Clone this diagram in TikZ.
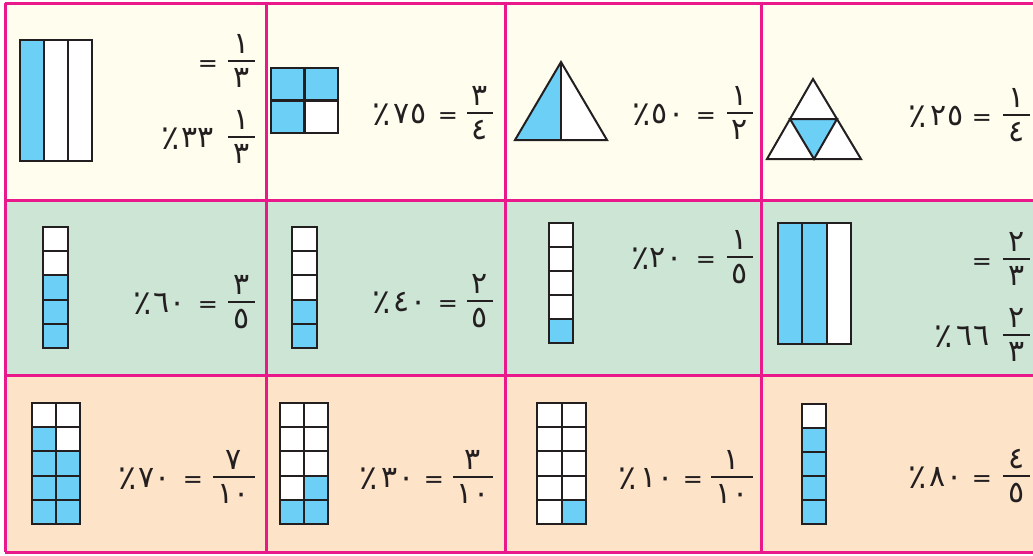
\documentclass[tikz,border=0pt]{standalone}
\usepackage{fontspec}
\newfontfamily\arabicfont[Script=Arabic]{DejaVu Sans}
\definecolor{rowA}{HTML}{FEFDEE}
\definecolor{rowB}{HTML}{CCE5D5}
\definecolor{rowC}{HTML}{FDE3C8}
\definecolor{magl}{HTML}{E9198B}
\definecolor{bluef}{HTML}{6CCFF6}
\definecolor{inkc}{HTML}{231F20}
\newcommand\gridfig[7]{%
  \fill[white] (#1,#2) rectangle ++({#5*#3},{#6*#4});
  \foreach \gc/\gr in {#7} \fill[bluef] ({#1+(\gc-1)*#3},{#2+(\gr-1)*#4}) rectangle ++(#3,#4);
  \foreach \gr in {1,...,#6} \foreach \gc in {1,...,#5}
    \draw[shp] ({#1+(\gc-1)*#3},{#2+(\gr-1)*#4}) rectangle ++(#3,#4);
}
% name, x-left, x-right, bar y, numerator, denominator
\newcommand\afrac[6]{%
  \draw[fbar] (#2,#4) -- (#3,#4);
  \node[dig,anchor=base] (#1n) at ({(#2+#3)/2},{#4-8}) {#5};
  \node[dig,anchor=north] (#1d) at ({(#2+#3)/2},{#4+7}) {#6};
}
% name, x of =, baseline
\newcommand\aeq[3]{\node[eqs,anchor=base] (#1) at (#2,#3) {=};}
% name, x of percent, x of number, baseline, number
\newcommand\apct[5]{%
  \node[pcs,anchor=base] (#1p) at ({#2+0.5},{#4+2}) {٪};
  \node[dig,anchor=base] (#1v) at (#3,#4) {#5};
}
\begin{document}
\begin{tikzpicture}[x=1pt,y=-1pt,
  dig/.style={font=\arabicfont\fontsize{30}{34}\selectfont,inner sep=0pt,text=inkc},
  pcs/.style={font=\arabicfont\fontsize{34}{38}\selectfont,inner sep=0pt,text=inkc},
  eqs/.style={font=\arabicfont\fontsize{24}{28}\selectfont,inner sep=0pt,text=inkc},
  fbar/.style={draw=inkc,line width=1.8pt},
  shp/.style={draw=inkc,line width=2pt,line join=miter},
  cellline/.style={draw=magl,line width=3pt}]
\useasboundingbox (0,0) rectangle (1033,555);
\fill[white] (0,0) rectangle (1033,555);
\fill[rowA] (5,3) rectangle (1033,200);
\fill[rowB] (5,200) rectangle (1033,375);
\fill[rowC] (5,375) rectangle (1033,552);
\foreach \yy in {3,200,375,552} \draw[cellline] (5,\yy) -- (1033,\yy);
\foreach \xx in {5,266,505,761} \draw[cellline] (\xx,3) -- (\xx,552);

% ---------- row 1 ----------
\gridfig{20}{40}{24}{121}{3}{1}{1/1}
\afrac{fa}{228}{255}{61}{١}{٣}
\aeq{ea}{208}{71}
\afrac{fb}{228}{255}{137}{١}{٣}
\apct{pa}{170}{198}{147}{٣٣}

\begin{scope}[shp/.append style={line width=2.8pt}]
\gridfig{271}{68}{33.5}{32.5}{2}{2}{1/1,2/1,1/2}
\end{scope}
\afrac{fc}{467}{493}{113}{٣}{٤}
\aeq{eb}{448}{123}
\apct{pb}{381}{410}{123}{٧٥}

\fill[bluef] (561,62) -- (515,140) -- (561,140) -- cycle;
\fill[white] (561,62) -- (607,140) -- (561,140) -- cycle;
\draw[shp] (561,62) -- (515,140) -- (607,140) -- cycle;
\draw[shp] (561,62) -- (561,140);
\afrac{fd}{727}{753}{113}{١}{٢}
\aeq{ec}{706}{123}
\apct{pc}{641}{668}{123}{٥٠}

\fill[white] (813,79) -- (767,159) -- (861,159) -- cycle;
\fill[bluef] (790,119) -- (837,119) -- (814,159) -- cycle;
\draw[shp] (813,79) -- (767,159) -- (861,159) -- cycle;
\draw[shp] (790,119) -- (837,119) -- (814,159) -- cycle;
\afrac{fe}{1003}{1030}{115}{١}{٤}
\aeq{ed}{982}{125}
\apct{pd}{917}{947}{125}{٢٥}

% ---------- row 2 ----------
\gridfig{43}{227}{25}{24.2}{1}{5}{1/3,1/4,1/5}
\afrac{ff}{228}{255}{302}{٣}{٥}
\aeq{ee}{208}{312}
\apct{pe}{142}{170}{312}{٦٠}

\gridfig{292}{227}{25}{24.2}{1}{5}{1/4,1/5}
\afrac{fg}{467}{493}{301}{٢}{٥}
\aeq{ef}{448}{311}
\apct{pf}{381}{410}{311}{٤٠}

\gridfig{549}{223}{24}{24}{1}{5}{1/5}
\afrac{fh}{727}{753}{257}{١}{٥}
\aeq{eg}{706}{267}
\apct{pg}{640}{666}{267}{٢٠}

\gridfig{778}{223}{24.33}{121}{3}{1}{1/1,2/1}
\afrac{fi}{1003}{1030}{259}{٢}{٣}
\aeq{eh}{982}{269}
\afrac{fj}{1003}{1030}{335}{٢}{٣}
\apct{ph}{943}{973}{345}{٦٦}

% ---------- row 3 ----------
\gridfig{32}{403}{24}{24.2}{2}{5}{1/2,1/3,2/3,1/4,2/4,1/5,2/5}
\afrac{fk}{213}{255}{477}{٧}{١٠}
\aeq{ei}{193}{487}
\apct{pi}{127}{155}{487}{٧٠}

\gridfig{280}{403}{24}{24.2}{2}{5}{2/4,1/5,2/5}
\afrac{fl}{453}{493}{477}{٣}{١٠}
\aeq{ej}{434}{487}
\apct{pj}{368}{398}{487}{٣٠}

\gridfig{537}{403}{24.5}{24.2}{2}{5}{2/5}
\afrac{fm}{711}{753}{477}{١}{١٠}
\aeq{ek}{693}{487}
\apct{pk}{627}{657}{487}{١٠}

\gridfig{802}{404}{24}{24}{1}{5}{1/2,1/3,1/4,1/5}
\afrac{fn}{1003}{1030}{476}{٤}{٥}
\aeq{el}{982}{486}
\apct{pl}{917}{946}{486}{٨٠}
\end{tikzpicture}
\end{document}
